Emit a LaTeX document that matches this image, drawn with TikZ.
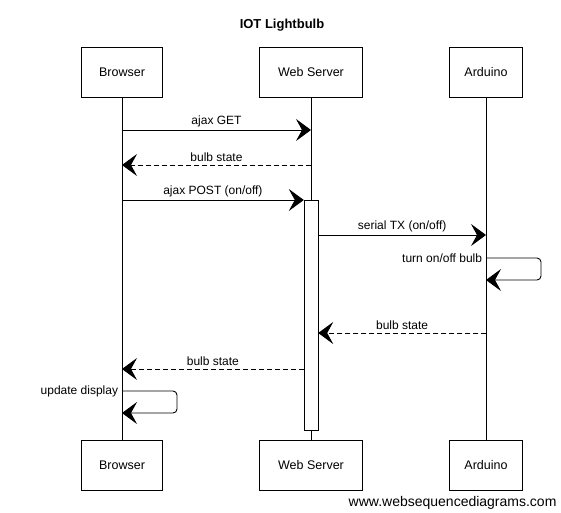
\documentclass[tikz,border=0pt]{standalone}
\usepackage{fontspec}
\setmainfont{Liberation Sans}
\usetikzlibrary{arrows.meta}

\tikzset{
  actor/.style={draw, fill=white, minimum height=50, inner sep=0.75pt, font=\fontsize{12.5}{14}\selectfont},
  msg/.style={-{Stealth[length=15pt,width=22pt,inset=6pt]}, line width=0.9pt},
  reply/.style={msg, dash pattern=on 5pt off 3pt},
  lbl/.style={inner sep=0.75pt, font=\fontsize{12}{14}\selectfont},
}

\begin{document}
\begin{tikzpicture}[x=1pt,y=1pt,yscale=-1]
\useasboundingbox (0,0) rectangle (561,512);

% Text Node
\node[font=\bfseries\fontsize{13}{15}\selectfont] (title) at (282,25) {IOT Lightbulb};

%Participants
\node[actor, minimum width=81] (brTop) at (122,72) {Browser};
\node[actor, minimum width=103] (wsTop) at (311,72) {Web Server};
\node[actor, minimum width=73] (arTop) at (486,72) {Arduino};
\node[actor, minimum width=81] (brBot) at (122,465) {Browser};
\node[actor, minimum width=103] (wsBot) at (311,465) {Web Server};
\node[actor, minimum width=73] (arBot) at (486,465) {Arduino};

%Lifelines
\draw (brTop.south) -- (brBot.north);
\draw (wsTop.south) -- (wsBot.north);
\draw (arTop.south) -- (arBot.north);

%Activation
\node[draw, fill=white, minimum width=14, minimum height=230, inner sep=0pt, anchor=north] (act) at (311,200) {};

%Message points
\coordinate (getA) at (brTop |- 0,130);
\coordinate (getB) at (wsTop |- 0,130);
\coordinate (stA) at (wsTop |- 0,165);
\coordinate (stB) at (brTop |- 0,165);
\coordinate (postA) at (brTop |- 0,200);
\coordinate (postB) at (act.north west);
\coordinate (txA) at (act.east |- 0,235);
\coordinate (txB) at (arTop |- 0,235);
\coordinate (bulbA) at (arTop |- 0,258);
\coordinate (bulbB) at (arTop |- 0,280);
\coordinate (ardA) at (arTop |- 0,333);
\coordinate (ardB) at (act.east |- 0,333);
\coordinate (backA) at (act.west |- 0,369);
\coordinate (backB) at (brTop |- 0,369);
\coordinate (dispA) at (brTop |- 0,391);
\coordinate (dispB) at (brTop |- 0,413);

%Straight Lines
\draw[msg] (getA) -- node[lbl, above=2pt] {ajax GET} (getB);
\draw[reply] (stA) -- node[lbl, above=2pt] {bulb state} (stB);
\draw[msg] (postA) -- node[lbl, above=2pt] {ajax POST (on/off)} (postB);
\draw[msg] (txA) -- node[lbl, above=2pt] {serial TX (on/off)} (txB);
\draw[msg, rounded corners=4pt] (bulbA) -- ++(55,0) -- ++(0,22) -- (bulbB);
\node[lbl, anchor=east] at ([xshift=-3pt]bulbA) {turn on/off bulb};
\draw[reply] (ardA) -- node[lbl, above=2pt] {bulb state} (ardB);
\draw[reply] (backA) -- node[lbl, above=2pt] {bulb state} (backB);
\draw[msg, rounded corners=4pt] (dispA) -- ++(55,0) -- ++(0,22) -- (dispB);
\node[lbl, anchor=east] at ([xshift=-3pt]dispA) {update display};

% Text Node
\node[font=\fontsize{14}{16}\selectfont, anchor=east] (site) at (560,503) {www.websequencediagrams.com};

\end{tikzpicture}
\end{document}
